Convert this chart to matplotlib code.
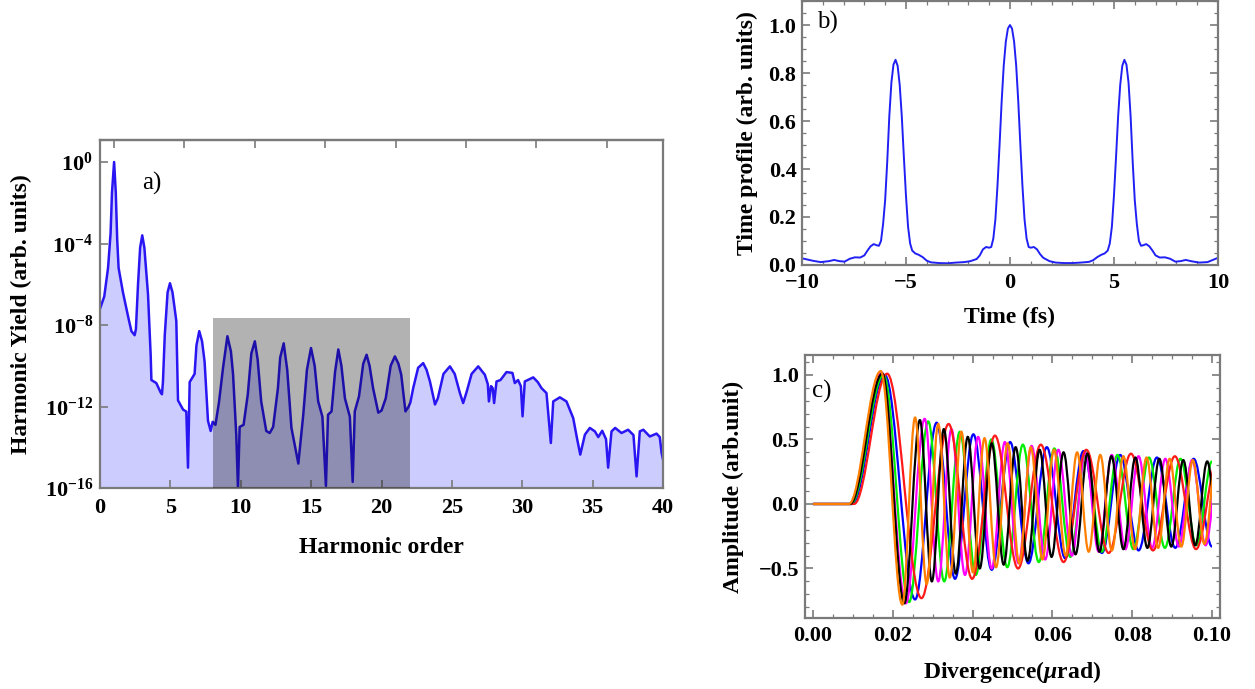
import numpy as np
import matplotlib
matplotlib.use("Agg")
import matplotlib.pyplot as plt
from matplotlib.path import Path
from matplotlib.patches import PathPatch, Rectangle
from matplotlib.ticker import MultipleLocator, FixedLocator, NullFormatter

plt.rcParams["font.family"] = "Liberation Serif"
plt.rcParams["font.weight"] = "bold"
plt.rcParams["mathtext.fontset"] = "custom"
plt.rcParams["mathtext.rm"] = "Liberation Serif:bold"
plt.rcParams["mathtext.bf"] = "Liberation Serif:bold"
plt.rcParams["mathtext.it"] = "Liberation Serif:italic:bold"

# ---------------- a) harmonic spectrum (order, log10 yield) ----------------
harm_order = [0.0, 0.3, 0.57, 0.75, 0.85, 1.0, 1.12, 1.22, 1.32, 1.63, 2.0, 2.23, 2.46, 2.55,
              2.7, 2.85, 3.0, 3.15, 3.41, 3.6, 3.65, 4.0, 4.3, 4.4, 4.47, 4.6, 4.8, 4.97,
              5.15, 5.42, 5.54, 5.9, 6.13, 6.25, 6.37, 6.72, 6.85, 7.05, 7.25, 7.43, 7.67,
              7.86, 8.0, 8.2, 8.45, 8.74, 9.05, 9.3, 9.45, 9.68, 9.8, 9.92, 10.2, 10.5,
              10.75, 11.0, 11.2, 11.45, 11.81, 12.06, 12.3, 12.64, 12.8, 13.05, 13.3, 13.6,
              14.09, 14.44, 14.7, 14.99, 15.25, 15.5, 15.8, 16.05, 16.2, 16.45, 16.7, 16.93,
              17.15, 17.4, 17.75, 17.95, 18.1, 18.4, 18.7, 18.94, 19.15, 19.4, 19.77, 20.0,
              20.3, 20.65, 20.95, 21.2, 21.4, 21.7, 21.93, 22.05, 22.25, 22.6, 22.96, 23.2,
              23.44, 23.8, 24.0, 24.4, 24.86, 25.2, 25.57, 25.8, 26.04, 26.4, 26.87, 27.34,
              27.55, 27.63, 27.78, 27.9, 28.0, 28.17, 28.45, 28.88, 29.3, 29.47, 29.7, 29.9,
              30.02, 30.18, 30.78, 31.1, 31.37, 31.72, 32.03, 32.2, 32.67, 33.14, 33.62,
              33.9, 34.12, 34.45, 34.8, 35.16, 35.4, 35.68, 35.95, 36.1, 36.34, 36.6, 37.05,
              37.52, 37.9, 38.12, 38.35, 38.6, 39.06, 39.54, 39.77, 39.9, 40.0]
harm_log_yield = [-7.2, -6.6, -5.2, -3.5, -1.5, 0.0, -1.5, -3.8, -5.2, -6.4, -7.6, -8.3, -8.5,
                  -8.2, -6.0, -4.2, -3.6, -4.2, -6.5, -9.5, -10.7, -10.85, -11.3, -11.4, -10.8,
                  -8.5, -6.4, -5.95, -6.4, -7.8, -11.7, -12.15, -12.25, -15.0, -10.8, -10.4,
                  -9.0, -8.3, -8.8, -9.8, -12.7, -13.2, -12.75, -12.9, -11.8, -10.1, -8.55,
                  -9.3, -10.4, -13.4, -16.0, -13.0, -12.9, -11.4, -9.4, -8.8, -9.7, -11.75,
                  -13.2, -13.3, -13.0, -11.1, -9.6, -8.9, -10.2, -13.05, -14.8, -12.4, -10.2,
                  -9.13, -10.0, -11.75, -12.5, -15.9, -12.4, -12.24, -10.3, -9.2, -10.0, -11.6,
                  -12.5, -15.7, -12.24, -11.5, -9.9, -9.46, -10.0, -11.1, -12.3, -12.2, -11.6,
                  -10.0, -9.54, -9.9, -10.44, -12.24, -12.0, -11.8, -11.1, -10.1, -9.87, -10.2,
                  -10.77, -11.9, -11.6, -10.4, -10.03, -10.4, -11.34, -11.83, -11.3, -10.4,
                  -10.03, -10.44, -10.9, -11.75, -11.0, -11.1, -11.83, -10.77, -10.7, -10.31,
                  -10.35, -10.85, -10.7, -11.0, -12.48, -10.77, -10.57, -10.8, -11.1, -11.34,
                  -13.79, -11.75, -11.55, -11.75, -12.57, -13.6, -14.36, -13.38, -13.05, -13.22,
                  -13.5, -13.19, -13.6, -15.0, -13.22, -13.05, -13.3, -13.14, -13.4, -15.43,
                  -13.22, -13.14, -13.47, -13.33, -13.5, -14.28, -14.6]
selected_orders = (8, 22)
selected_top = 2.2e-8

# ---------------- b) attosecond pulse train ----------------
time_fs = [-10.0, -9.5, -9.1, -8.7, -8.45, -8.2, -7.95, -7.7, -7.45, -7.2, -7.0, -6.85, -6.7,
           -6.55, -6.4, -6.3, -6.2, -6.1, -6.0, -5.9, -5.8, -5.7, -5.6, -5.5, -5.4, -5.3,
           -5.2, -5.1, -5.0, -4.9, -4.8, -4.7, -4.55, -4.4, -4.2, -4.0, -3.8, -3.4, -3.0,
           -2.6, -2.2, -1.9, -1.6, -1.45, -1.3, -1.15, -1.0, -0.9, -0.8, -0.7, -0.6, -0.5,
           -0.4, -0.3, -0.2, -0.1, 0.0, 0.1, 0.2, 0.3, 0.4, 0.5, 0.6, 0.7, 0.8, 0.9, 1.0,
           1.15, 1.3, 1.45, 1.6, 1.9, 2.2, 2.6, 3.0, 3.4, 3.8, 4.0, 4.2, 4.4, 4.55, 4.7,
           4.8, 4.9, 5.0, 5.1, 5.2, 5.3, 5.4, 5.5, 5.6, 5.7, 5.8, 5.9, 6.0, 6.1, 6.2, 6.3,
           6.4, 6.55, 6.7, 6.85, 7.0, 7.2, 7.45, 7.7, 7.95, 8.2, 8.45, 8.7, 9.1, 9.5, 10.0]
time_profile = [0.028, 0.018, 0.012, 0.016, 0.021, 0.016, 0.014, 0.026, 0.032, 0.031, 0.040,
                0.060, 0.078, 0.087, 0.082, 0.080, 0.10, 0.17, 0.27, 0.43, 0.62, 0.76, 0.835,
                0.855, 0.83, 0.75, 0.62, 0.45, 0.29, 0.16, 0.09, 0.06, 0.048, 0.043, 0.033,
                0.018, 0.011, 0.008, 0.007, 0.010, 0.012, 0.016, 0.025, 0.04, 0.065, 0.075,
                0.072, 0.075, 0.11, 0.19, 0.33, 0.50, 0.68, 0.83, 0.93, 0.985, 1.0, 0.985,
                0.93, 0.83, 0.68, 0.50, 0.33, 0.19, 0.11, 0.075, 0.072, 0.075, 0.065, 0.045,
                0.03, 0.016, 0.010, 0.008, 0.008, 0.010, 0.013, 0.020, 0.033, 0.043, 0.048,
                0.06, 0.09, 0.16, 0.29, 0.45, 0.62, 0.75, 0.83, 0.855, 0.835, 0.76, 0.62,
                0.43, 0.27, 0.17, 0.10, 0.080, 0.082, 0.087, 0.078, 0.06, 0.040, 0.031, 0.032,
                0.026, 0.014, 0.016, 0.021, 0.016, 0.010, 0.012, 0.030]

# ---------------- c) far-field amplitude: turning points of each curve ----------------
blue_x = [0, 0.0098, 0.0180, 0.0256, 0.0310, 0.0356, 0.0402, 0.0448, 0.0494, 0.0540, 0.0586,
          0.0632, 0.0678, 0.0724, 0.0770, 0.0816, 0.0862, 0.0908, 0.0954, 0.1000]
blue_y = [0, 0, 1.0, -0.74, 0.63, -0.58, 0.54, -0.51, 0.48, -0.46, 0.44, -0.42, 0.41, -0.38,
          0.38, -0.36, 0.36, -0.34, 0.35, -0.33]
green_x = [0, 0.0095, 0.0177, 0.0241, 0.0289, 0.0329, 0.0368, 0.0408, 0.0447, 0.0487, 0.0526,
           0.0566, 0.0605, 0.0645, 0.0684, 0.0724, 0.0763, 0.0803, 0.0842, 0.0882, 0.0921,
           0.0961, 0.1000]
green_y = [0, 0, 1.0, -0.76, 0.64, -0.60, 0.56, -0.55, 0.50, -0.49, 0.46, -0.45, 0.43, -0.41,
           0.40, -0.37, 0.38, -0.35, 0.36, -0.34, 0.35, -0.32, 0.33]
magenta_x = [0, 0.0092, 0.0172, 0.0233, 0.0280, 0.0314, 0.0347, 0.0381, 0.0414, 0.0448, 0.0481,
             0.0515, 0.0548, 0.0582, 0.0615, 0.0649, 0.0682, 0.0716, 0.0749, 0.0783, 0.0816,
             0.0850, 0.0883, 0.0917, 0.0950, 0.0984, 0.1017]
magenta_y = [0, 0, 1.02, -0.77, 0.66, -0.60, 0.58, -0.55, 0.52, -0.50, 0.48, -0.46, 0.45, -0.43,
             0.42, -0.40, 0.40, -0.37, 0.38, -0.35, 0.37, -0.34, 0.35, -0.33, 0.34, -0.32, 0.33]
red_x = [0, 0.0103, 0.0186, 0.0272, 0.0340, 0.0399, 0.0456, 0.0514, 0.0571, 0.0628, 0.0685,
         0.0741, 0.0797, 0.0852, 0.0907, 0.0960, 0.1014]
red_y = [0, 0, 1.01, -0.73, 0.62, -0.58, 0.53, -0.50, 0.46, -0.45, 0.42, -0.38, 0.39, -0.36,
         0.37, -0.35, 0.34]
black_x = [0, 0.0093, 0.0174, 0.0229, 0.0268, 0.0298, 0.0328, 0.0358, 0.0388, 0.0418, 0.0448,
           0.0478, 0.0508, 0.0538, 0.0568, 0.0598, 0.0628, 0.0658, 0.0688, 0.0718, 0.0748,
           0.0778, 0.0808, 0.0838, 0.0868, 0.0898, 0.0928, 0.0958, 0.0988, 0.1018]
black_y = [0, 0, 1.01, -0.77, 0.65, -0.60, 0.58, -0.54, 0.52, -0.50, 0.47, -0.47, 0.44, -0.44,
           0.42, -0.41, 0.40, -0.39, 0.39, -0.37, 0.37, -0.35, 0.36, -0.34, 0.35, -0.33, 0.34,
           -0.32, 0.33, -0.31]
orange_x = [0, 0.0090, 0.0170, 0.0224, 0.0256, 0.0285, 0.0314, 0.0343, 0.0372, 0.0401, 0.0430,
            0.0459, 0.0488, 0.0517, 0.0546, 0.0575, 0.0604, 0.0633, 0.0662, 0.0691, 0.0720,
            0.0749, 0.0778, 0.0807, 0.0836, 0.0865, 0.0894, 0.0923, 0.0952, 0.0981, 0.1010]
orange_y = [0, 0, 1.03, -0.78, 0.67, -0.62, 0.62, -0.57, 0.56, -0.53, 0.51, -0.49, 0.47, -0.46,
            0.44, -0.43, 0.42, -0.40, 0.40, -0.37, 0.38, -0.36, 0.37, -0.35, 0.36, -0.34, 0.35,
            -0.33, 0.34, -0.31, 0.33]
divergence_max = 0.1

FRAME = "#7a7a7a"
LABEL_FS = 17
TICK_FS = 16


def style_frame(ax):
    for sp in ax.spines.values():
        sp.set_color(FRAME)
        sp.set_linewidth(1.6)
    ax.tick_params(which="both", direction="in", color=FRAME, labelsize=TICK_FS,
                   labelcolor="black")
    ax.tick_params(which="major", length=6, width=1.2)
    ax.tick_params(which="minor", length=3, width=0.9)


def smooth_through(xs, ys):
    """Cubic path with flat tangents at every turning point."""
    verts = [(xs[0], ys[0])]
    codes = [Path.MOVETO]
    k = 0.3634
    for x0, y0, x1, y1 in zip(xs[:-1], ys[:-1], xs[1:], ys[1:]):
        d = x1 - x0
        verts += [(x0 + k * d, y0), (x1 - k * d, y1), (x1, y1)]
        codes += [Path.CURVE4] * 3
    return Path(verts, codes)


fig = plt.figure(figsize=(12.55, 6.89), dpi=100)
fig.patch.set_facecolor("white")

# ---- panel a ----
axa = fig.add_axes([0.0797, 0.2917, 0.4486, 0.5051])
yld = 10.0 ** np.array(harm_log_yield)
axa.fill_between(harm_order, 1e-16, yld, color="#ccccff", lw=0, zorder=1)
axa.plot(harm_order, yld, color="#2a16f2", lw=1.8, zorder=2)
axa.fill_between(list(selected_orders), 1e-16, selected_top, color="black", alpha=0.3,
                 lw=0, zorder=3)
axa.set_yscale("log")
axa.set_xlim(0, 40)
axa.set_ylim(1e-16, 10 ** 1.08)
style_frame(axa)
axa.xaxis.set_major_locator(MultipleLocator(5))
axa.xaxis.set_minor_locator(FixedLocator([]))
axa.yaxis.set_major_locator(FixedLocator([1e0, 1e-4, 1e-8, 1e-12, 1e-16]))
axa.yaxis.set_minor_locator(FixedLocator([]))
axa.set_yticklabels([r"$\mathbf{10^{0}}$", r"$\mathbf{10^{-4}}$", r"$\mathbf{10^{-8}}$",
                     r"$\mathbf{10^{-12}}$", r"$\mathbf{10^{-16}}$"])
axa.tick_params(axis="x", pad=7)
axa.tick_params(axis="y", pad=5, right=False)
top = axa.secondary_xaxis("top")
top.set_xticks(list(range(1, 40, 5)))
top.xaxis.set_major_formatter(NullFormatter())
top.tick_params(direction="in", length=6, width=1.2, color=FRAME)
top.spines["top"].set_color(FRAME)
top.spines["top"].set_linewidth(1.6)
axa.set_xlabel("Harmonic order", fontsize=LABEL_FS, fontweight="bold")
axa.set_ylabel("Harmonic Yield (arb. units)", fontsize=LABEL_FS, fontweight="bold")
axa.xaxis.set_label_coords(0.5, -0.172)
axa.xaxis.label.set_va("center")
axa.yaxis.set_label_coords(-0.139, 0.5)
axa.yaxis.label.set_va("center")
axa.text(0.092, 0.876, "a)", transform=axa.transAxes, fontsize=18, fontweight="normal",
         ha="center", va="center")

# ---- panel b ----
axb = fig.add_axes([0.6390, 0.6154, 0.3315, 0.3831])
axb.plot(time_fs, time_profile, color="#2020f5", lw=1.4)
axb.set_xlim(-10, 10)
axb.set_ylim(0, 1.1)
style_frame(axb)
axb.xaxis.set_major_locator(MultipleLocator(5))
axb.xaxis.set_minor_locator(MultipleLocator(1))
axb.yaxis.set_major_locator(MultipleLocator(0.2))
axb.yaxis.set_minor_locator(MultipleLocator(0.05))
axb.tick_params(which="both", top=True, right=True)
axb.tick_params(axis="x", pad=6)
axb.tick_params(axis="y", pad=4)
axb.set_xlabel("Time (fs)", fontsize=LABEL_FS, fontweight="bold")
axb.set_ylabel("Time profile (arb. units)", fontsize=LABEL_FS, fontweight="bold")
axb.xaxis.set_label_coords(0.5, -0.20)
axb.xaxis.label.set_va("center")
axb.yaxis.set_label_coords(-0.13, 0.5)
axb.yaxis.label.set_va("center")
axb.text(0.0625, 0.92, "b)", transform=axb.transAxes, fontsize=18, fontweight="normal",
         ha="center", va="center")

# ---- panel c ----
axc = fig.add_axes([0.6414, 0.1030, 0.3307, 0.3818])
axc.set_xlim(-0.002, 0.102)
axc.set_ylim(-0.884, 1.155)
clip = Rectangle((-0.01, -5), 0.01 + divergence_max, 10, transform=axc.transData)
curves = [(blue_x, blue_y, "#0000ff"), (green_x, green_y, "#00ee00"),
          (magenta_x, magenta_y, "#ff00ff"), (red_x, red_y, "#ff1a1a"),
          (black_x, black_y, "#000000"), (orange_x, orange_y, "#ff7f00")]
for xs, ys, col in curves:
    patch = PathPatch(smooth_through(xs, ys), fill=False, edgecolor=col, lw=1.6,
                      transform=axc.transData)
    axc.add_patch(patch)
    patch.set_clip_path(clip)
style_frame(axc)
axc.xaxis.set_major_locator(MultipleLocator(0.02))
axc.xaxis.set_minor_locator(MultipleLocator(0.005))
axc.yaxis.set_major_locator(MultipleLocator(0.5))
axc.yaxis.set_minor_locator(MultipleLocator(0.1))
axc.tick_params(which="both", top=True, right=True)
axc.tick_params(axis="x", pad=6)
axc.tick_params(axis="y", pad=4)
axc.set_xlabel(r"Divergence($\mu$rad)", fontsize=LABEL_FS, fontweight="bold")
axc.set_ylabel("Amplitude (arb.unit)", fontsize=LABEL_FS, fontweight="bold")
axc.xaxis.set_label_coords(0.5, -0.205)
axc.xaxis.label.set_va("center")
axc.yaxis.set_label_coords(-0.173, 0.5)
axc.yaxis.label.set_va("center")
axc.text(0.041, 0.86, "c)", transform=axc.transAxes, fontsize=18, fontweight="normal",
         ha="center", va="center")

fig.savefig("out.png", dpi=100)
